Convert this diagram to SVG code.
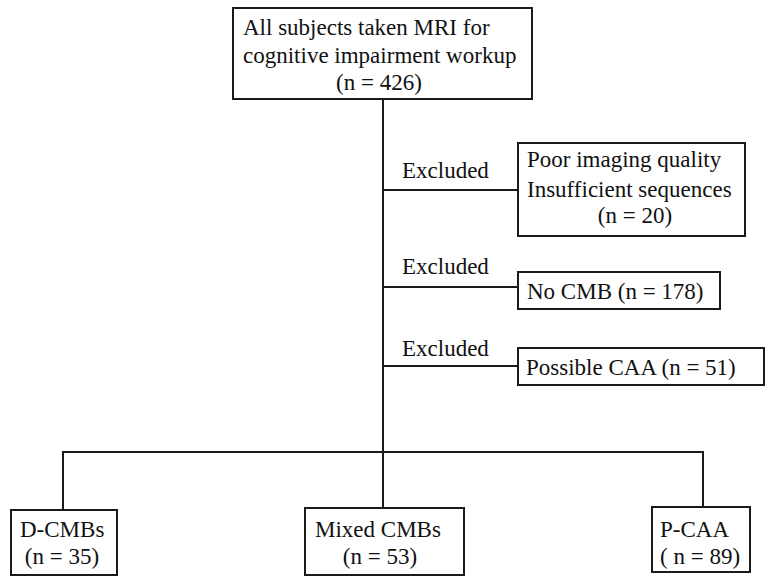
<svg xmlns="http://www.w3.org/2000/svg" width="765" height="576" viewBox="0 0 765 576" font-family="'Liberation Serif', 'Times New Roman', Times, serif" font-size="23">
<style>
.box{fill:#fff;stroke:#1a1a1a;stroke-width:2}
.ln{fill:none;stroke:#1a1a1a;stroke-width:2}
.t{fill:#111}
</style>
<rect width="765" height="576" fill="#fff"/>
<g id="connectors">
<path class="ln" d="M383 99V508"/>
<path class="ln" d="M383 190H518"/>
<path class="ln" d="M383 287H518"/>
<path class="ln" d="M383 366H518"/>
<path class="ln" d="M63 510V452H703V507"/>
<text class="t" x="402" y="178">Excluded</text>
<text class="t" x="402" y="274">Excluded</text>
<text class="t" x="402" y="356">Excluded</text>
</g>
<g id="n-all">
<rect class="box" x="233" y="8" width="299" height="91"/>
<text class="t" x="243" y="35">All subjects taken MRI for</text>
<text class="t" x="243" y="63">cognitive impairment workup</text>
<text class="t" x="379" y="90" text-anchor="middle">(n = 426)</text>
</g>
<g id="n-poor">
<rect class="box" x="518" y="143" width="227" height="93"/>
<text class="t" x="527" y="167">Poor imaging  quality</text>
<text class="t" x="527" y="197">Insufficient sequences</text>
<text class="t" x="635" y="223" text-anchor="middle">(n = 20)</text>
</g>
<g id="n-nocmb">
<rect class="box" x="518" y="272" width="202" height="37"/>
<text class="t" x="527" y="299">No CMB (n = 178)</text>
</g>
<g id="n-caa">
<rect class="box" x="518" y="348" width="246" height="37"/>
<text class="t" x="526" y="375">Possible CAA (n = 51)</text>
</g>
<g id="n-dcmb">
<rect class="box" x="11" y="510" width="106" height="65"/>
<text class="t" x="20" y="537">D-CMBs</text>
<text class="t" x="62" y="564" text-anchor="middle">(n = 35)</text>
</g>
<g id="n-mixed">
<rect class="box" x="305" y="508" width="159" height="67"/>
<text class="t" x="315" y="537">Mixed CMBs</text>
<text class="t" x="380" y="564" text-anchor="middle">(n = 53)</text>
</g>
<g id="n-pcaa">
<rect class="box" x="652" y="507" width="98" height="65"/>
<text class="t" x="660" y="537">P-CAA</text>
<text class="t" x="660" y="564">( n = 89)</text>
</g>
</svg>
